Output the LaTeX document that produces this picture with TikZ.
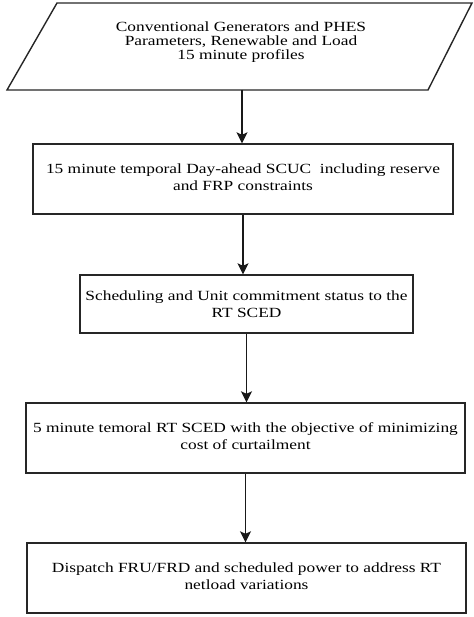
\documentclass[tikz,border=0pt]{standalone}
\usepackage{fontspec}
\setmainfont{Liberation Serif}[FakeStretch=1.24]
\usetikzlibrary{arrows.meta}
\begin{document}
\begin{tikzpicture}[x=1pt,y=-1pt,
  boxstyle/.style={draw=black!85, line width=1.4pt, inner sep=0pt, align=center,
    font=\fontsize{14}{17}\selectfont},
  txt/.style={inner sep=0pt, align=center, font=\fontsize{14}{14}\selectfont},
  arr/.style={draw=black!90, line width=1.1pt, -{Stealth[length=11pt,width=11pt,inset=2.5pt]}}]
\useasboundingbox (0,0) rectangle (473,617);
% input parallelogram
\coordinate (p1) at (57,3);
\coordinate (p2) at (472,3);
\coordinate (p3) at (428,90);
\coordinate (p4) at (7,90);
\draw[draw=black!85, line width=1.4pt, line join=miter] (p1) -- (p2) -- (p3) -- (p4) -- cycle;
\node[txt] (intext) at (241,42) {Conventional Generators and PHES\\Parameters, Renewable and Load\\15 minute profiles};
\coordinate (inbot) at (242,90);
\node[boxstyle, minimum width=420pt, minimum height=70pt] (b2) at (243,179) {};
\node[txt, font=\fontsize{14}{17}\selectfont] (t2) at (b2.center) [yshift=1.5pt] {15 minute temporal Day-ahead SCUC\ \ including reserve\\and FRP constraints};
\node[boxstyle, minimum width=333pt, minimum height=58pt] (b3) at (246.5,304) {};
\node[txt, font=\fontsize{14}{17}\selectfont] (t3) at (b3.center) {Scheduling and Unit commitment status to the\\RT SCED};
\node[boxstyle, minimum width=439pt, minimum height=70pt] (b4) at (245.5,438) {};
\node[txt, font=\fontsize{14}{17}\selectfont] (t4) at (b4.center) [yshift=1.5pt] {5 minute temoral RT SCED with the objective of minimizing\\cost of curtailment};
\node[boxstyle, minimum width=439pt, minimum height=70pt] (b5) at (246.5,578) {};
\node[txt, font=\fontsize{14}{17}\selectfont] (t5) at (b5.center) [yshift=2pt] {Dispatch FRU/FRD and scheduled power to address RT\\netload variations};
\draw[arr] (inbot) -- (inbot |- b2.north);
\draw[arr] (b2.south) -- (b2.south |- b3.north);
\draw[arr] (b3.south) -- (b3.south |- b4.north);
\draw[arr] (b4.south) -- (b4.south |- b5.north);
\end{tikzpicture}
\end{document}
